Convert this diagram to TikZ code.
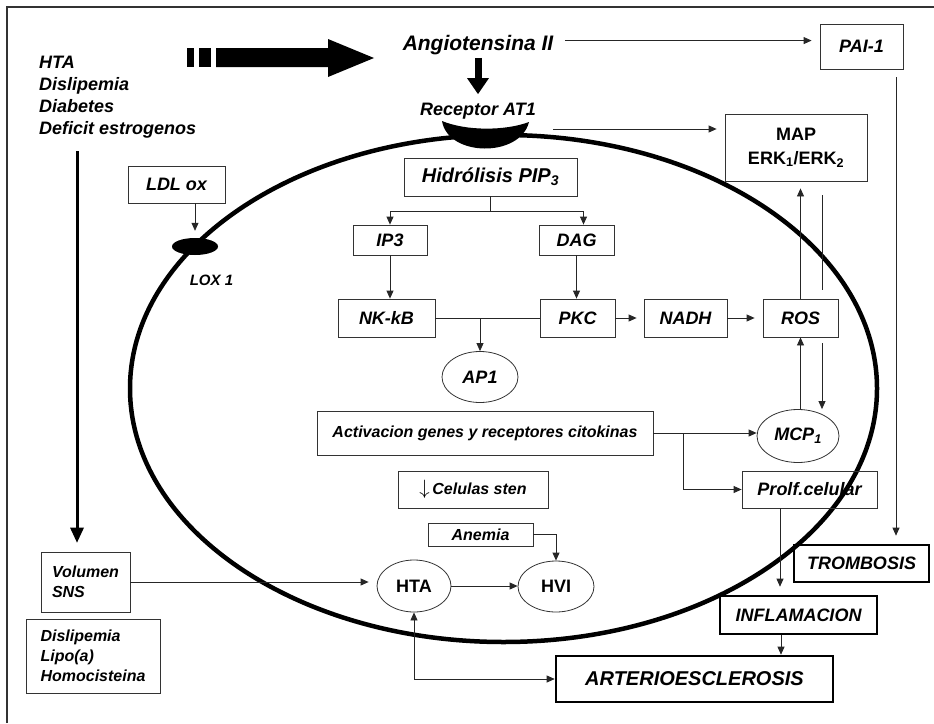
\documentclass[tikz,border=0pt]{standalone}
\usepackage{fontspec}
\setmainfont{Liberation Sans}
\usetikzlibrary{arrows.meta,shapes.geometric}

\newcommand\lblfont{\fontsize{18}{21}\selectfont\bfseries\itshape}
\newcommand\smlfont{\fontsize{16}{20}\selectfont\bfseries\itshape}
\newcommand\bigfont{\fontsize{21}{25}\selectfont\bfseries\itshape}
\newcommand\upfont{\fontsize{18}{24}\selectfont\bfseries}

\begin{document}
\begin{tikzpicture}[x=1pt,y=-1pt,
    box/.style={draw=black!80,line width=.8pt,inner sep=0pt,font=\lblfont},
    thickbox/.style={box,draw=black,line width=2.6pt},
    oval/.style={draw=black!80,line width=.8pt,ellipse,inner sep=0pt,font=\lblfont},
    link/.style={draw=black!85,line width=.8pt},
    arr/.style={link,-{Triangle[length=8pt,width=7pt]}},
    dblarr/.style={link,{Triangle[length=8pt,width=7pt]}-{Triangle[length=8pt,width=7pt]}},
    bigarrow/.style={line width=3pt,-{Triangle[length=15pt,width=14pt,line width=0pt]}},
    membrane/.style={line width=4.5pt}]

  \useasboundingbox (0,0) rectangle (934,723);

  %%%% frame %%%%
  \draw[black!80,line width=1.2pt] (7,723) -- (7,7) -- (934,7);

  %%%% cell membrane and receptors %%%%
  \draw[membrane] (503.5,388.5) ellipse [x radius=373.5, y radius=253.5];
  \fill (442,121) .. controls (448,157) and (520,158) .. (529,122)
                  .. controls (505,131) and (466,131) .. cycle;

  %% risk factors and the big arrow
  \node[font=\fontsize{18}{22}\selectfont\bfseries\itshape,align=left,
        anchor=north west,inner sep=0pt] (risk) at (39,55.5)
        {HTA\\Dislipemia\\Diabetes\\Deficit estrogenos};
  \fill (187,48) rectangle (194,67);
  \fill (199,48) rectangle (211,67);
  \fill (216,48) -- (328,48) -- (328,39) -- (374,58) -- (328,77) -- (328,67) -- (216,67) -- cycle;

  %% top row
  \node[font=\bigfont,anchor=base] (ang) at (478,50) {Angiotensina II};
  \node[font=\lblfont,anchor=base] (rtxt) at (478,115) {Receptor AT1};
  \node[box,minimum width=83pt,minimum height=45pt] (pai) at (861.5,46.5) {PAI-1};
  \node[box,font=\upfont,align=center,minimum width=142pt,minimum height=67pt] (map)
        at (796,147.5) {MAP\\ERK\textsubscript{1}/ERK\textsubscript{2}};
  \coordinate (rcpE) at (553,129);

  %% inside the cell
  \node[box,font=\fontsize{20}{24}\selectfont\bfseries\itshape,
        minimum width=173pt,minimum height=38pt] (hid) at (490.5,177) {Hidrólisis PIP\textsubscript{3}};
  \node[box,minimum width=74pt,minimum height=30pt] (ip3) at (390,240) {IP3};
  \node[box,minimum width=75pt,minimum height=30pt] (dag) at (576.5,240) {DAG};
  \node[box,minimum width=97pt,minimum height=38pt] (nfk) at (386.5,318) {NK-kB};
  \node[box,minimum width=75pt,minimum height=38pt] (pkc) at (577.5,318) {PKC};
  \node[box,minimum width=83pt,minimum height=38pt] (nadh) at (685.5,318) {NADH};
  \node[box,minimum width=75pt,minimum height=38pt] (ros) at (800.5,318) {ROS};
  \node[oval,minimum width=76pt,minimum height=51pt] (ap1) at (480,377) {AP1};
  \node[box,font=\smlfont,minimum width=336pt,minimum height=44pt] (act) at (485,433)
        {Activacion genes y receptores citokinas};
  \node[oval,minimum width=82pt,minimum height=53pt] (mcp) at (798,436) {MCP\textsubscript{1}};
  \node[box,font=\smlfont,minimum width=150pt,minimum height=37pt] (cel) at (473,489.5)
        {{\normalfont\fontsize{22}{22}\selectfont$\downarrow$}\,Celulas sten};
  \node[box,minimum width=135pt,minimum height=37pt] (prolf) at (809.5,489.5) {Prolf.celular};
  \node[box,font=\smlfont,minimum width=105pt,minimum height=23pt] (anem) at (480.5,534.5) {Anemia};
  \node[oval,font=\upfont,minimum width=74pt,minimum height=52pt] (hta) at (414,586) {HTA};
  \node[oval,font=\upfont,minimum width=76pt,minimum height=51pt] (hvi) at (556,586.5) {HVI};

  %% LDL and LOX 1
  \node[box,minimum width=97pt,minimum height=37pt] (ldl) at (176.5,184.5) {LDL ox};
  \node[ellipse,fill=black,inner sep=0pt,minimum width=46pt,minimum height=17pt] (lox) at (195,246.5) {};
  \node[font=\fontsize{15}{18}\selectfont\bfseries\itshape] (loxtxt) at (211.5,280) {LOX 1};

  %% left boxes
  \node[box,font=\smlfont,align=left,minimum width=89pt,minimum height=60pt] (vol) at (85.5,582)
        {Volumen\\SNS};
  \node[box,font=\smlfont,align=left,minimum width=134pt,minimum height=74pt] (dis) at (93,656)
        {Dislipemia\\Lipo(a)\\Homocisteina};

  %% outcomes
  \node[thickbox,minimum width=135pt,minimum height=37pt] (trom) at (861.5,563.5) {TROMBOSIS};
  \node[thickbox,minimum width=157pt,minimum height=38pt] (infl) at (798.5,615) {INFLAMACION};
  \node[thickbox,font=\fontsize{20}{24}\selectfont\bfseries\itshape,
        minimum width=277pt,minimum height=46pt] (art) at (694.5,679) {ARTERIOESCLEROSIS};

  %%%% connectors %%%%
  \draw[arr,shorten <=8pt,shorten >=8pt] ([yshift=4pt]ang.east) -- ([yshift=4pt]ang.east -| pai.west);
  \draw[line width=7pt,-{Triangle[length=16pt,width=22pt,line width=0pt]},shorten >=5pt]
        (ang.south) -- (rtxt.north);
  \draw[arr,shorten >=8pt] (rcpE) -- (rcpE -| map.west);
  \draw[arr,shorten <=8pt,shorten >=8pt] ([xshift=34.5pt]pai.south) -- ([xshift=34.5pt]pai.south |- trom.north);

  \draw[arr] (hid.south) -- ++(0,15) -| (ip3.north);
  \draw[arr] (hid.south) -- ++(0,15) -| ([xshift=7pt]dag.north);
  \draw[arr] (ip3.south) -- (ip3.south |- nfk.north);
  \draw[arr] (dag.south) -- (dag.south |- pkc.north);
  \draw[link] (nfk.east) -- (pkc.west);
  \draw[arr] (nfk.east -| ap1.north) -- (ap1.north);
  \draw[arr,shorten >=7pt] (pkc.east) -- (nadh.west);
  \draw[arr,shorten >=8pt] (nadh.east) -- (ros.west);

  \draw[arr,shorten >=7pt] (ros.north) -- (ros.north |- map.south);
  \draw[link,shorten <=9pt,shorten >=14pt] ([xshift=21.5pt]ros.north) -- ([xshift=21.5pt]ros.north |- map.south);
  \draw[arr,shorten <=6pt] ([xshift=21.5pt]ros.south) -- ([xshift=21.5pt]ros.south |- mcp.north);
  \draw[arr] (ros.south |- mcp.north) -- (ros.south);

  \draw[arr] (act.east) -- (act.east -| mcp.west);
  \draw[arr] ([xshift=30pt]act.east) |- (prolf.west);
  \draw[arr,shorten >=8pt] ([xshift=-29.5pt]prolf.south) -- ([xshift=-29.5pt]prolf.south |- infl.north);
  \draw[arr] ([xshift=-17.5pt]infl.south) -- ([xshift=-17.5pt]infl.south |- art.north);

  \draw[arr] (anem.east) -| (hvi.north);
  \draw[arr] (hta.east) -- (hta.east -| hvi.west);
  \draw[arr,shorten >=8pt] (vol.east) -- (vol.east -| hta.west);
  \draw[dblarr] (hta.south) |- (art.west);

  \coordinate (riskdn) at (77,151);
  \draw[bigarrow,shorten >=9pt] (riskdn) -- (riskdn |- vol.north);
  \draw[arr,shorten >=7pt] ([xshift=18.5pt]ldl.south) -- ([xshift=18.5pt]ldl.south |- lox.north);

\end{tikzpicture}
\end{document}
